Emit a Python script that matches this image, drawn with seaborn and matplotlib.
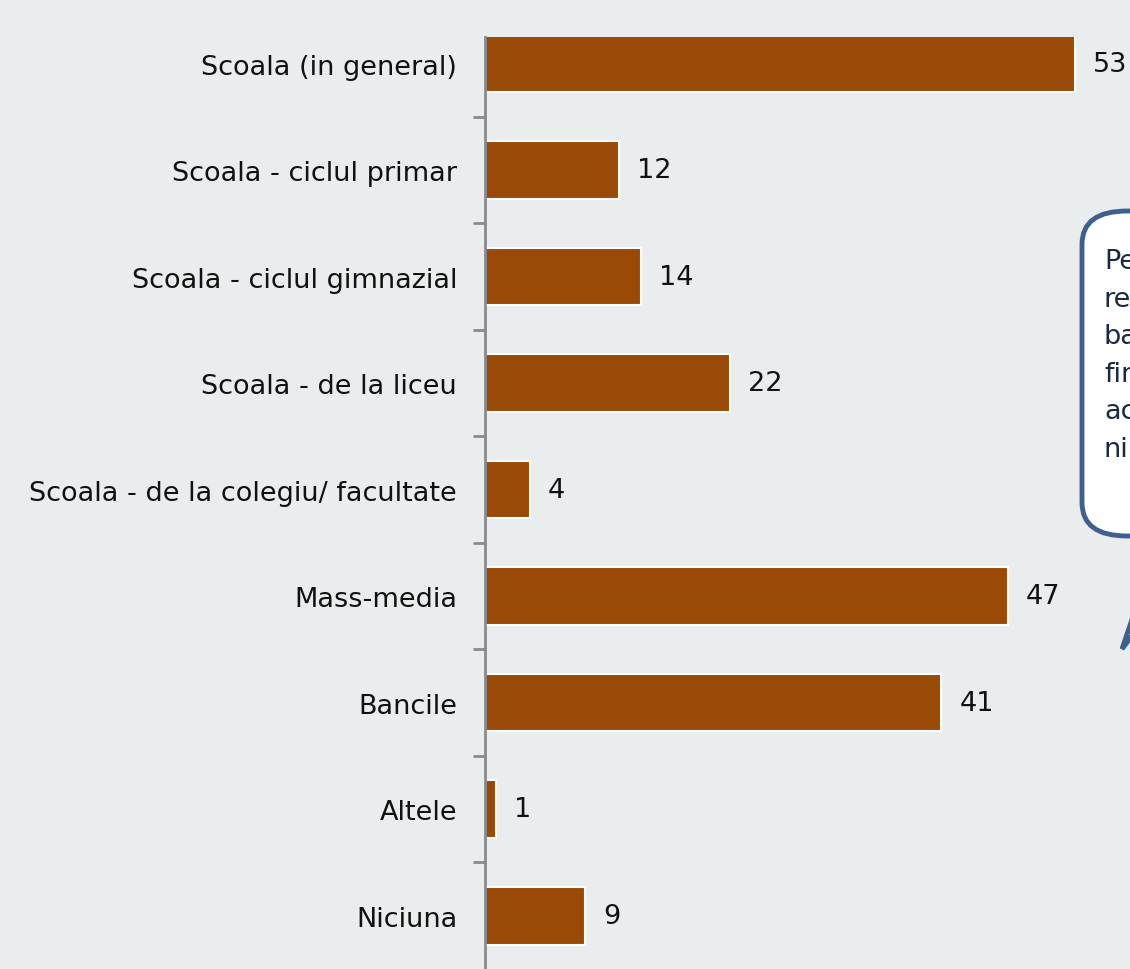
import matplotlib
matplotlib.use("Agg")
import matplotlib.pyplot as plt
from matplotlib.patches import FancyBboxPatch, Polygon
import numpy as np
import pandas as pd
import seaborn as sns

categories = [
    "Scoala (in general)",
    "Scoala - ciclul primar",
    "Scoala - ciclul gimnazial",
    "Scoala - de la liceu",
    "Scoala - de la colegiu/ facultate",
    "Mass-media",
    "Bancile",
    "Altele",
    "Niciuna",
]
values = [53, 12, 14, 22, 4, 47, 41, 1, 9]
note_lines = ["Pe", "re", "ba", "fir", "ac", "ni"]

BG = "#E9EDEE"
BAR = "#9A4A07"

sns.set_theme(style="white")
plt.rcParams["font.family"] = ["DejaVu Sans"]

df = pd.DataFrame({"cat": categories, "val": values})

W, H = 1130, 970
fig = plt.figure(figsize=(W / 100, H / 100), dpi=100, facecolor=BG)
ax = fig.add_axes([485 / W, 0, (W - 485) / W, (H - 38) / H], facecolor=BG)

sns.barplot(data=df, y="cat", x="val", orient="h", color=BAR, saturation=1,
            width=0.54, edgecolor="white", linewidth=1.5, ax=ax)

ax.set_xlim(0, (W - 485) / 11.13)
ax.set_ylim(8.5, -0.25)
ax.set_xlabel("")
ax.set_ylabel("")
ax.set_xticks([])

for s in ["top", "right", "bottom"]:
    ax.spines[s].set_visible(False)
ax.spines["left"].set_color("#8A8A8A")
ax.spines["left"].set_linewidth(2)

ax.tick_params(axis="y", which="major", left=False, length=0, pad=20,
               labelsize=19.5, labelcolor="#111111")
ax.set_yticks(np.arange(0.5, 8.5, 1.0), minor=True)
ax.tick_params(axis="y", which="minor", left=True, length=9, width=2,
               color="#8A8A8A", direction="out")

ax.bar_label(ax.containers[0], labels=[str(v) for v in values], padding=13,
             fontsize=19.5, color="#111111")

# Callout box on the right edge
def fx(x):
    return x / W

def fy(y):
    return 1 - y / H

box = FancyBboxPatch((fx(1082), fy(537)), fx(200), (537 - 212) / H,
                     boxstyle="round,pad=0,rounding_size=0.04",
                     transform=fig.transFigure, facecolor="white",
                     edgecolor="#3D6090", linewidth=3.5, zorder=5,
                     mutation_aspect=H / W)
fig.add_artist(box)
pointer = Polygon([(fx(1122), fy(650)), (fx(1161), fy(535)), (fx(1210), fy(535))],
                  closed=True, transform=fig.transFigure, facecolor="white",
                  edgecolor="#3D6090", linewidth=3.5, zorder=4)
fig.add_artist(pointer)

for i, line in enumerate(note_lines):
    fig.text(fx(1104), fy(262 + 37.6 * i), line, fontsize=19.5, color="#1B2A40",
             va="center", ha="left", zorder=7)

fig.savefig("out.png", dpi=100, facecolor=BG)
